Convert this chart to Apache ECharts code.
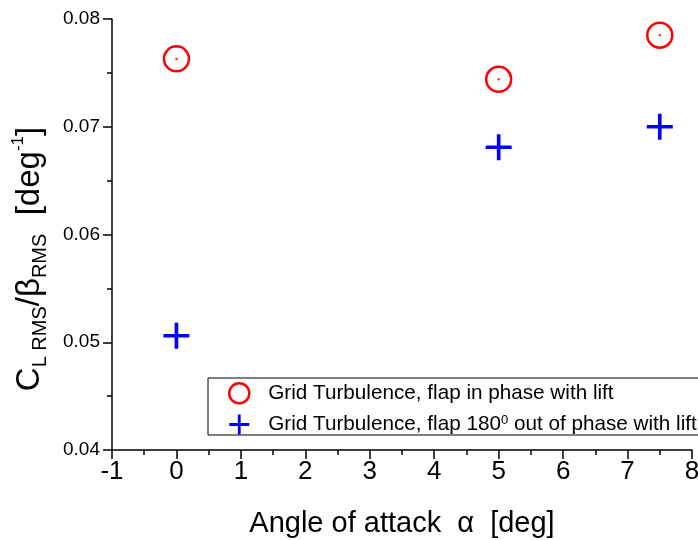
<!DOCTYPE html>
<html>
<head>
<meta charset="utf-8">
<script src="https://cdn.jsdelivr.net/npm/echarts@6/dist/echarts.min.js"></script>
<style>
html,body{margin:0;padding:0;background:#fff;}
#chart{width:698px;height:540px;}
</style>
</head>
<body>
<div id="chart"></div>
<script>
// Data
var angles = [0, 5, 7.5];
var inPhase = [0.0763, 0.0744, 0.0785];
var outOfPhase = [0.0506, 0.0681, 0.0700];
var seriesNames = ['Grid Turbulence, flap in phase with lift', 'Grid Turbulence, flap 180 out of phase with lift'];
var xTicks = [-1, 0, 1, 2, 3, 4, 5, 6, 7, 8];
var yTicks = [0.04, 0.05, 0.06, 0.07, 0.08];

var FONT = '"Liberation Sans", Arial, sans-serif';
var plusPath = 'path://M-0.07,-0.5 L0.07,-0.5 L0.07,-0.07 L0.5,-0.07 L0.5,0.07 L0.07,0.07 L0.07,0.5 L-0.07,0.5 L-0.07,0.07 L-0.5,0.07 L-0.5,-0.07 L-0.07,-0.07 Z';

function pairs(xs, ys) { return xs.map(function (x, i) { return [x, ys[i]]; }); }

var chart = echarts.init(document.getElementById('chart'), null, {renderer: 'canvas'});
chart.setOption({
  animation: false,
  backgroundColor: '#fff',
  grid: {left: 112, right: 6, top: 19, bottom: 90, containLabel: false, outerBoundsMode: 'none'},
  xAxis: {
    type: 'value', min: xTicks[0], max: xTicks[xTicks.length - 1], interval: 1,
    name: 'Angle of attack  \u03b1  [deg]', nameLocation: 'middle', nameGap: 59,
    nameTextStyle: {fontFamily: FONT, fontSize: 29, color: '#000'},
    axisLine: {onZero: false, lineStyle: {color: '#000', width: 1.5}},
    axisTick: {inside: false, length: 9, lineStyle: {color: '#000', width: 1.5}},
    minorTick: {show: true, splitNumber: 2, length: 5, lineStyle: {color: '#000', width: 1.5}},
    splitLine: {show: false},
    axisLabel: {fontFamily: FONT, fontSize: 26, color: '#000', margin: 9}
  },
  yAxis: {
    type: 'value', min: yTicks[0], max: yTicks[yTicks.length - 1], interval: 0.01,
    axisLine: {onZero: false, lineStyle: {color: '#000', width: 1.5}},
    axisTick: {inside: false, length: 9, lineStyle: {color: '#000', width: 1.5}},
    minorTick: {show: true, splitNumber: 2, length: 5, lineStyle: {color: '#000', width: 1.5}},
    splitLine: {show: false},
    axisLabel: {fontFamily: FONT, fontSize: 19, color: '#000', margin: 12,
      formatter: function (v) { return v.toFixed(2); }}
  },
  legend: {
    orient: 'vertical', left: 208, top: 378,
    borderColor: '#000', borderWidth: 1, padding: [4, 60, 0, 20],
    itemWidth: 48, itemHeight: 20, itemGap: 9,
    textStyle: {fontFamily: FONT, fontSize: 20.7, color: '#000',
      rich: {t: {fontFamily: FONT, fontSize: 20.7, lineHeight: 22, color: '#000'},
             sup: {fontFamily: FONT, fontSize: 13, lineHeight: 13, verticalAlign: 'top', color: '#000'}}},
    formatter: function (name) {
      if (name === seriesNames[1]) {
        return '{t|Grid Turbulence, flap 180}{sup|0}{t| out of phase with lift}';
      }
      return '{t|' + name + '}';
    },
    data: [
      {name: seriesNames[0], icon: 'circle', itemStyle: {color: 'transparent', borderColor: '#ff0000', borderWidth: 2.5, opacity: 1}},
      {name: seriesNames[1], icon: plusPath, itemStyle: {color: '#0000ff', borderWidth: 0, opacity: 1}}
    ]
  },
  graphic: [{
    type: 'text', x: 30, y: 259, rotation: Math.PI / 2,
    style: {
      text: '{m|C}{s|L RMS}{m|/\u03b2}{s|RMS}{m|  [deg}{p|-1}{m|]}',
      align: 'center', verticalAlign: 'middle',
      rich: {
        m: {fontFamily: FONT, fontSize: 33, lineHeight: 40, fill: '#000'},
        s: {fontFamily: FONT, fontSize: 20, lineHeight: 24, verticalAlign: 'bottom', fill: '#000'},
        p: {fontFamily: FONT, fontSize: 17, lineHeight: 22, verticalAlign: 'top', fill: '#000'}
      }
    }
  }],
  series: [
    {
      name: seriesNames[0], type: 'scatter', data: pairs(angles, inPhase),
      symbol: 'circle', symbolSize: 25,
      itemStyle: {color: 'transparent', borderColor: '#ff0000', borderWidth: 2.5, opacity: 1}
    },
    {
      name: seriesNames[1], type: 'scatter', data: pairs(angles, outOfPhase),
      symbol: plusPath, symbolSize: 26,
      itemStyle: {color: '#0000ff', opacity: 1}
    },
    {
      name: 'centres', type: 'scatter', data: pairs(angles, inPhase),
      symbol: 'rect', symbolSize: 2, silent: true,
      itemStyle: {color: '#ff0000', opacity: 1}
    }
  ]
});
</script>
</body>
</html>
